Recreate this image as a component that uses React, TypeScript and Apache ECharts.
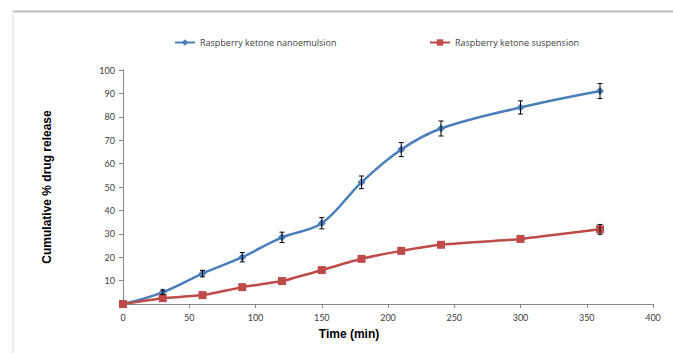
import React, { useEffect, useRef } from "react";
import * as echarts from "echarts";

const times = [0, 30, 60, 90, 120, 150, 180, 210, 240, 300, 360];
const nanoValues = [0, 5.0, 13.0, 20.0, 28.5, 34.5, 52.0, 66.0, 75.0, 84.0, 91.0];
const nanoErrors = [0.3, 1.0, 1.4, 2.0, 2.2, 2.4, 2.7, 3.0, 3.2, 2.8, 3.2];
const suspValues = [0, 2.5, 3.8, 7.2, 9.8, 14.5, 19.3, 22.7, 25.3, 27.8, 31.9];
const suspErrors = [0, 0, 0, 0, 0, 0, 0, 0, 0, 0, 2.1];
const nanoName = "Raspberry ketone nanoemulsion";
const suspName = "Raspberry ketone suspension";
const xTitle = "Time (min)";
const yTitle = "Cumulative % drug release";

const BLUE = "#4a7ebb";
const RED = "#be4b48";

function errorSeries(values: number[], errors: number[]) {
  const data = times
    .map((t, i) => [t, values[i] - errors[i], values[i] + errors[i]])
    .filter((_, i) => errors[i] > 0.5);
  return {
    type: "custom",
    silent: true,
    z: 5,
    data,
    renderItem: (params: any, api: any) => {
      const x = api.value(0);
      const lo = api.coord([x, api.value(1)]);
      const hi = api.coord([x, api.value(2)]);
      const cap = 2.5;
      const st = { stroke: "#000", lineWidth: 1 };
      return {
        type: "group",
        children: [
          { type: "line", shape: { x1: lo[0], y1: lo[1], x2: hi[0], y2: hi[1] }, style: st },
          { type: "line", shape: { x1: lo[0] - cap, y1: lo[1], x2: lo[0] + cap, y2: lo[1] }, style: st },
          { type: "line", shape: { x1: hi[0] - cap, y1: hi[1], x2: hi[0] + cap, y2: hi[1] }, style: st },
        ],
      };
    },
  };
}

export default function App() {
  const ref = useRef<HTMLDivElement>(null);
  useEffect(() => {
    if (!ref.current) return;
    const chart = echarts.init(ref.current, undefined, { renderer: "svg" });
    const legendText = { fontSize: 9, color: "#404040", fontFamily: "'Open Sans', Lato, sans-serif" };
    chart.setOption({
      animation: false,
      backgroundColor: "#fff",
      grid: { left: 123, right: 20, top: 70, bottom: 49 },
      legend: [
        {
          data: [nanoName],
          left: 174,
          top: 38,
          itemWidth: 20,
          itemHeight: 8,
          itemGap: 2,
          textStyle: legendText,
          padding: 0,
        },
        {
          data: [suspName],
          left: 429,
          top: 38,
          itemWidth: 20,
          itemHeight: 8,
          itemGap: 2,
          textStyle: legendText,
          padding: 0,
        },
      ],
      xAxis: {
        type: "value",
        min: 0,
        max: 400,
        interval: 50,
        splitLine: { show: false },
        axisLine: { lineStyle: { color: "#868686", width: 1 } },
        axisTick: { show: true, length: 4, lineStyle: { color: "#868686" } },
        axisLabel: { color: "#404040", fontSize: 9, margin: 9, fontFamily: "Lato, 'Open Sans', sans-serif" },
      },
      yAxis: {
        type: "value",
        min: 0,
        max: 100,
        interval: 10,
        splitLine: { show: false },
        axisLine: { show: true, lineStyle: { color: "#868686", width: 1 } },
        axisTick: { show: true, length: 4, lineStyle: { color: "#868686" } },
        axisLabel: {
          color: "#404040",
          fontSize: 9,
          margin: 8,
          showMinLabel: false,
          fontFamily: "Lato, 'Open Sans', sans-serif",
        },
      },
      graphic: [
        { type: "line", shape: { x1: 12, y1: 11.5, x2: 673, y2: 11.5 }, style: { stroke: "#bdbdbd", lineWidth: 2 } },
        { type: "line", shape: { x1: 13, y1: 11, x2: 13, y2: 353 }, style: { stroke: "#ececec", lineWidth: 2 } },
        {
          type: "text",
          x: 47,
          y: 187,
          rotation: Math.PI / 2,
          style: {
            text: yTitle,
            fontSize: 12,
            fontWeight: "bold",
            fill: "#000",
            fontFamily: "'Liberation Sans', Arial, sans-serif",
            textAlign: "center",
            textVerticalAlign: "middle",
          },
        },
        {
          type: "text",
          x: 349,
          y: 334,
          style: {
            text: xTitle,
            fontSize: 12,
            fontWeight: "bold",
            fill: "#000",
            fontFamily: "'Liberation Sans', Arial, sans-serif",
            textAlign: "center",
            textVerticalAlign: "middle",
          },
        },
      ],
      series: [
        {
          name: nanoName,
          type: "line",
          smooth: 0.35,
          data: times.map((t, i) => [t, nanoValues[i]]),
          symbol: "diamond",
          symbolSize: 8,
          lineStyle: { color: BLUE, width: 2.5 },
          itemStyle: { color: BLUE },
          z: 3,
        },
        {
          name: suspName,
          type: "line",
          smooth: 0.15,
          data: times.map((t, i) => [t, suspValues[i]]),
          symbol: "rect",
          symbolSize: 8,
          lineStyle: { color: RED, width: 2.5 },
          itemStyle: { color: RED },
          z: 3,
        },
        errorSeries(nanoValues, nanoErrors),
        errorSeries(suspValues, suspErrors),
      ],
    });
    return () => chart.dispose();
  }, []);
  return <div ref={ref} style={{ position: "fixed", left: 0, top: 0, width: 673, height: 353 }} />;
}
